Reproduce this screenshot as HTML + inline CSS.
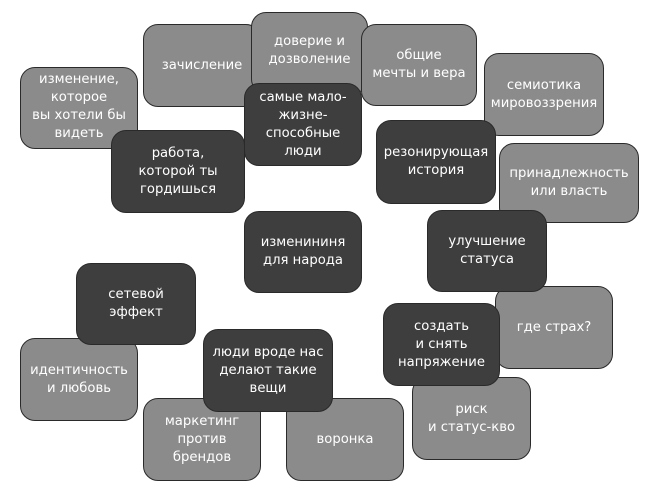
<!DOCTYPE html>
<html><head><meta charset="utf-8"><style>
body{margin:0;width:649px;height:500px;background:#fff;position:relative;overflow:hidden;font-family:"DejaVu Sans","Liberation Sans",sans-serif;}
.b{position:absolute;box-sizing:border-box;border:1.5px solid #2a2a2a;border-radius:15px;display:flex;align-items:center;justify-content:center;text-align:center;color:#fff;font-size:13.2px;line-height:18px;letter-spacing:0}
.l{background:#8b8b8b}
.d{background:#3e3e3e}
</style></head><body>
<div class="b l" style="left:143px;top:24px;width:118px;height:83px">зачисление</div>
<div class="b l" style="left:251px;top:12px;width:117px;height:82px;align-items:flex-start;padding-top:20px">доверие и<br>дозволение</div>
<div class="b l" style="left:361px;top:24px;width:116px;height:82px">общие<br>мечты и вера</div>
<div class="b l" style="left:484px;top:53px;width:120px;height:83px">семиотика<br>мировоззрения</div>
<div class="b l" style="left:20px;top:67px;width:118px;height:82px;align-items:flex-start;padding-top:3px">изменение,<br>которое<br>вы хотели бы<br>видеть</div>
<div class="b l" style="left:499px;top:143px;width:140px;height:80px">принадлежность<br>или власть</div>
<div class="b l" style="left:495px;top:286px;width:118px;height:83px">где страх?</div>
<div class="b l" style="left:20px;top:338px;width:118px;height:83px">идентичность<br>и любовь</div>
<div class="b l" style="left:143px;top:398px;width:118px;height:83px">маркетинг<br>против<br>брендов</div>
<div class="b l" style="left:286px;top:398px;width:118px;height:83px">воронка</div>
<div class="b l" style="left:412px;top:377px;width:119px;height:83px">риск<br>и статус-кво</div>

<div class="b d" style="left:244px;top:83px;width:118px;height:83px">самые мало-<br>жизне-<br>способные<br>люди</div>
<div class="b d" style="left:111px;top:130px;width:134px;height:83px">работа,<br>которой ты<br>гордишься</div>
<div class="b d" style="left:376px;top:120px;width:120px;height:84px">резонирующая<br>история</div>
<div class="b d" style="left:244px;top:211px;width:118px;height:82px">изменининя<br>для народа</div>
<div class="b d" style="left:427px;top:210px;width:120px;height:82px">улучшение<br>статуса</div>
<div class="b d" style="left:76px;top:263px;width:120px;height:82px">сетевой<br>эффект</div>
<div class="b d" style="left:203px;top:329px;width:130px;height:83px">люди вроде нас<br>делают такие<br>вещи</div>
<div class="b d" style="left:383px;top:303px;width:117px;height:83px">создать<br>и снять<br>напряжение</div>
</body></html>
